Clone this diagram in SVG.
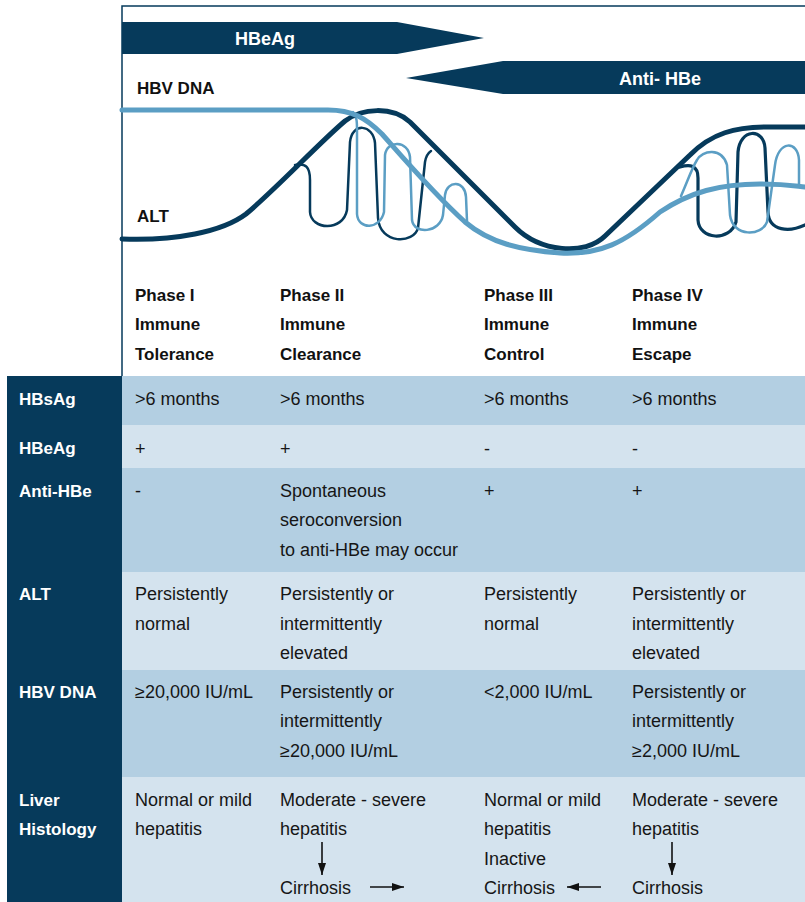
<svg xmlns="http://www.w3.org/2000/svg" width="805" height="902" viewBox="0 0 805 902">
<style>
.navy{fill:#063a5b}
.rowd{fill:#b3cfe2}
.rowl{fill:#d4e3ee}
.cell{font-family:"Liberation Sans",Arial,sans-serif;font-size:18px;fill:#161616}
.lab{font-family:"Liberation Sans",Arial,sans-serif;font-size:17px;font-weight:bold;fill:#ffffff}
.ph{font-family:"Liberation Sans",Arial,sans-serif;font-size:17px;font-weight:bold;fill:#111111}
.band{font-family:"Liberation Sans",Arial,sans-serif;font-size:18px;font-weight:bold;fill:#ffffff;text-anchor:middle}
.thickD{fill:none;stroke:#063a5b;stroke-width:5;stroke-linecap:round;stroke-linejoin:round}
.thickL{fill:none;stroke:#5b9ec4;stroke-width:5;stroke-linecap:round;stroke-linejoin:round}
.thinD{fill:none;stroke:#063a5b;stroke-width:2.5;stroke-linecap:round;stroke-linejoin:round}
.thinL{fill:none;stroke:#5b9ec4;stroke-width:2.5;stroke-linecap:round;stroke-linejoin:round}
.arr{stroke:#111111;stroke-width:1.6;fill:none}
</style>
<defs>
<marker id="ah" viewBox="0 0 12 8" refX="12" refY="4" markerWidth="12" markerHeight="8" markerUnits="userSpaceOnUse" orient="auto"><path d="M0,0 L12,4 L0,8 z" fill="#111111"/></marker>
</defs>
<rect width="805" height="902" fill="#ffffff"/>

<g id="chart">
<path d="M122,376 L122,6 L805,6" fill="none" stroke="#063a5b" stroke-width="1.5"/>
<g id="hbeag-band">
<polygon class="navy" points="122,22 397,22 484,38 397,54 122,54"/>
<text class="band" x="265" y="45">HBeAg</text>
</g>
<g id="antihbe-band">
<polygon class="navy" points="406,78 503,61 805,61 805,94 503,94"/>
<text class="band" x="660" y="85">Anti- HBe</text>
</g>
<text class="ph" x="137" y="94">HBV DNA</text>
<text class="ph" x="137" y="222">ALT</text>
<g id="curves">
<path class="thinD" d="M295,165 C306,163 310,167 310,180 L310,212 C311,230 343,232 347,210 L350,142 C352,122 373,124 375,143 L378,218 C380,245 414,244 418,228 L425,162 C426,156 428,153 431,151"/>
<path class="thinL" d="M353,112 C357,117 357,122 357,130 L357,214 C358,230 380,230 384,212 L385,155 C387,140 408,140 410,157 L412,220 C414,235 440,233 443,215 L445,195 C447,180 465,180 466,197 L467,221"/>
<path class="thinD" d="M680,167 C690,164 698,165 698,178 L698,220 C699,240 730,242 736,222 L738,152 C740,128 764,128 765,148 L768,212 C769,232 790,232 805,225" style="stroke-width:3.2"/>
<path class="thinL" d="M681,196 C688,180 692,168 697,160 C702,150 722,147 727,165 L730,215 C733,238 762,236 767,222 L775,165 C778,140 798,140 799,160 L799,184"/>
<path class="thickD" d="M122,239 C175,241 222,232 246,214 C275,190 320,142 345,121 C362,108 392,106 410,122 L515,227 C540,252 585,256 605,236 L690,155 C712,133 735,127 768,127 L805,127"/>
<path class="thickL" d="M122,110 L328,110 C352,110 366,118 382,134 C405,160 435,195 465,222 C490,243 520,250 560,253 C600,255 625,243 660,212 C690,192 720,184 760,184 C785,184 795,186 805,187"/>
</g>
</g>

<g id="phases">
<g id="phase1"><text class="ph" x="135" y="301">Phase I</text><text class="ph" x="135" y="330">Immune</text><text class="ph" x="135" y="360">Tolerance</text></g>
<g id="phase2"><text class="ph" x="280" y="301">Phase II</text><text class="ph" x="280" y="330">Immune</text><text class="ph" x="280" y="360">Clearance</text></g>
<g id="phase3"><text class="ph" x="484" y="301">Phase III</text><text class="ph" x="484" y="330">Immune</text><text class="ph" x="484" y="360">Control</text></g>
<g id="phase4"><text class="ph" x="632" y="301">Phase IV</text><text class="ph" x="632" y="330">Immune</text><text class="ph" x="632" y="360">Escape</text></g>
</g>

<g id="table-bg">
<rect class="rowd" x="122" y="376" width="683" height="49"/>
<rect class="rowl" x="122" y="425" width="683" height="43"/>
<rect class="rowd" x="122" y="468" width="683" height="104"/>
<rect class="rowl" x="122" y="572" width="683" height="98"/>
<rect class="rowd" x="122" y="670" width="683" height="107"/>
<rect class="rowl" x="122" y="777" width="683" height="125"/>
<rect class="navy" x="7" y="376" width="115" height="526"/>
</g>

<g id="row-hbsag">
<text class="lab" x="19" y="405">HBsAg</text>
<text class="cell" x="135" y="405">&gt;6 months</text>
<text class="cell" x="280" y="405">&gt;6 months</text>
<text class="cell" x="484" y="405">&gt;6 months</text>
<text class="cell" x="632" y="405">&gt;6 months</text>
</g>
<g id="row-hbeag">
<text class="lab" x="19" y="454">HBeAg</text>
<text class="cell" x="135" y="455">+</text>
<text class="cell" x="280" y="455">+</text>
<text class="cell" x="484" y="455">-</text>
<text class="cell" x="632" y="455">-</text>
</g>
<g id="row-antihbe">
<text class="lab" x="19" y="497">Anti-HBe</text>
<text class="cell" x="135" y="497">-</text>
<text class="cell" x="280" y="497">Spontaneous</text>
<text class="cell" x="280" y="526">seroconversion</text>
<text class="cell" x="280" y="556">to anti-HBe may occur</text>
<text class="cell" x="484" y="497">+</text>
<text class="cell" x="632" y="497">+</text>
</g>
<g id="row-alt">
<text class="lab" x="19" y="600">ALT</text>
<text class="cell" x="135" y="600">Persistently</text>
<text class="cell" x="135" y="630">normal</text>
<text class="cell" x="280" y="600">Persistently or</text>
<text class="cell" x="280" y="630">intermittently</text>
<text class="cell" x="280" y="659">elevated</text>
<text class="cell" x="484" y="600">Persistently</text>
<text class="cell" x="484" y="630">normal</text>
<text class="cell" x="632" y="600">Persistently or</text>
<text class="cell" x="632" y="630">intermittently</text>
<text class="cell" x="632" y="659">elevated</text>
</g>
<g id="row-hbvdna">
<text class="lab" x="19" y="698">HBV DNA</text>
<text class="cell" x="135" y="698">≥20,000 IU/mL</text>
<text class="cell" x="280" y="698">Persistently or</text>
<text class="cell" x="280" y="727">intermittently</text>
<text class="cell" x="280" y="757">≥20,000 IU/mL</text>
<text class="cell" x="484" y="698">&lt;2,000 IU/mL</text>
<text class="cell" x="632" y="698">Persistently or</text>
<text class="cell" x="632" y="727">intermittently</text>
<text class="cell" x="632" y="757">≥2,000 IU/mL</text>
</g>
<g id="row-liver">
<text class="lab" x="19" y="806">Liver</text>
<text class="lab" x="19" y="835">Histology</text>
<text class="cell" x="135" y="806">Normal or mild</text>
<text class="cell" x="135" y="835">hepatitis</text>
<text class="cell" x="280" y="806">Moderate - severe</text>
<text class="cell" x="280" y="835">hepatitis</text>
<text class="cell" x="280" y="894">Cirrhosis</text>
<text class="cell" x="484" y="806">Normal or mild</text>
<text class="cell" x="484" y="835">hepatitis</text>
<text class="cell" x="484" y="865">Inactive</text>
<text class="cell" x="484" y="894">Cirrhosis</text>
<text class="cell" x="632" y="806">Moderate - severe</text>
<text class="cell" x="632" y="835">hepatitis</text>
<text class="cell" x="632" y="894">Cirrhosis</text>
</g>
<g id="connectors">
<line class="arr" x1="322" y1="842" x2="322" y2="875" marker-end="url(#ah)"/>
<line class="arr" x1="370" y1="887" x2="404" y2="887" marker-end="url(#ah)"/>
<line class="arr" x1="601" y1="887" x2="567" y2="887" marker-end="url(#ah)"/>
<line class="arr" x1="672" y1="842" x2="672" y2="875" marker-end="url(#ah)"/>
</g>
</svg>
